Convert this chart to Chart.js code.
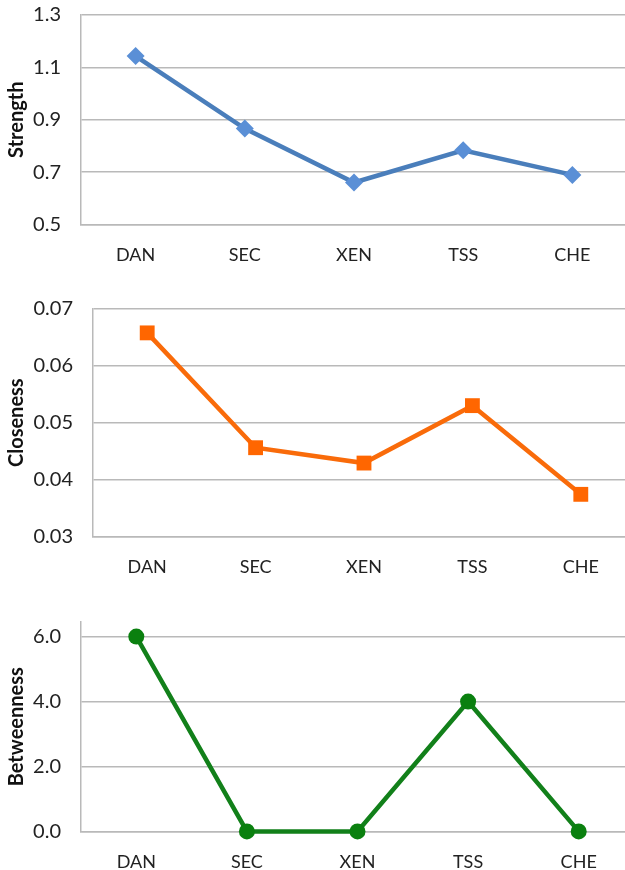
<!DOCTYPE html>
<html>
<head>
<meta charset="utf-8">
<script src="https://cdn.jsdelivr.net/npm/chart.js@4.4.1/dist/chart.umd.min.js"></script>
<style>
  html, body { margin: 0; padding: 0; background: #fff; overflow: hidden; width: 625px; height: 870px; }
  .box { position: absolute; left: 0; }
</style>
</head>
<body>
<div class="box" style="top:0px;width:627px;height:286px"><canvas id="strengthChart"></canvas></div>
<div class="box" style="top:294px;width:635px;height:304px"><canvas id="closenessChart"></canvas></div>
<div class="box" style="top:607px;width:634px;height:286px"><canvas id="betweenChart"></canvas></div>
<script>
// Kategori node
const labels = ["DAN", "SEC", "XEN", "TSS", "CHE"];

// Nilai tiap ukuran
const strengthValues = [1.143, 0.866, 0.66, 0.783, 0.689];
const closenessValues = [0.0658, 0.0456, 0.0429, 0.053, 0.0374];
const betweennessValues = [6.0, 0.0, 0.0, 4.0, 0.0];

const FONT = "Lato, 'Open Sans', sans-serif";
const GRID = "#b9b9b9";

function makeChart(id, opt) {
  const ctx = document.getElementById(id).getContext("2d");
  return new Chart(ctx, {
    type: "line",
    data: {
      labels,
      datasets: [{
        data: opt.values,
        borderColor: opt.color,
        backgroundColor: opt.pointColor,
        borderWidth: opt.lineWidth,
        pointStyle: opt.pointStyle,
        pointRadius: opt.pointRadius,
        pointBorderWidth: 0,
        tension: 0,
        fill: false,
        clip: false
      }]
    },
    options: {
      responsive: true,
      maintainAspectRatio: false,
      animation: false,
      layout: { autoPadding: false, padding: { top: opt.padTop, left: 0, right: 0, bottom: 0 } },
      plugins: { legend: { display: false }, tooltip: { enabled: false } },
      scales: {
        x: {
          offset: true,
          grid: { display: false, drawTicks: false },
          border: { display: true, color: GRID, width: 1.5 },
          ticks: { color: "#222", padding: 20, font: { family: FONT, size: 18 } }
        },
        y: {
          min: opt.min,
          max: opt.max,
          // lebar sumbu tetap, padding label atas/bawah dibuang
          afterFit: (scale) => {
            scale.width = opt.left;
            scale.paddingTop = 0;
            scale.paddingBottom = 0;
          },
          grid: { color: GRID, lineWidth: 1.5, drawTicks: false },
          border: { display: true, color: GRID, width: 1.5 },
          title: {
            display: true,
            text: opt.title,
            color: "#111",
            padding: { top: 5, bottom: 0 },
            font: { family: FONT, size: 20, weight: "bold" }
          },
          ticks: {
            stepSize: opt.step,
            includeBounds: opt.includeBounds,
            color: "#222",
            padding: 20,
            font: { family: FONT, size: 20 },
            callback: (v) => Number(v).toFixed(opt.decimals)
          }
        }
      }
    }
  });
}

makeChart("strengthChart", {
  values: strengthValues, title: "Strength",
  color: "#4a7ebb", pointColor: "#5a8fd6", lineWidth: 4.5,
  pointStyle: "rectRot", pointRadius: 9,
  min: 0.5, max: 1.3, step: 0.2, decimals: 1, includeBounds: true,
  left: 81, padTop: 15
});

makeChart("closenessChart", {
  values: closenessValues, title: "Closeness",
  color: "#f96b0a", pointColor: "#ff6600", lineWidth: 4.5,
  pointStyle: "rect", pointRadius: 10.5,
  min: 0.03, max: 0.07, step: 0.01, decimals: 2, includeBounds: true,
  left: 93, padTop: 15
});

makeChart("betweenChart", {
  values: betweennessValues, title: "Betweenness",
  color: "#12801a", pointColor: "#0a800f", lineWidth: 4.5,
  pointStyle: "circle", pointRadius: 8,
  min: 0, max: 6.45, step: 2, decimals: 1, includeBounds: false,
  left: 81, padTop: 15
});
</script>
</body>
</html>
